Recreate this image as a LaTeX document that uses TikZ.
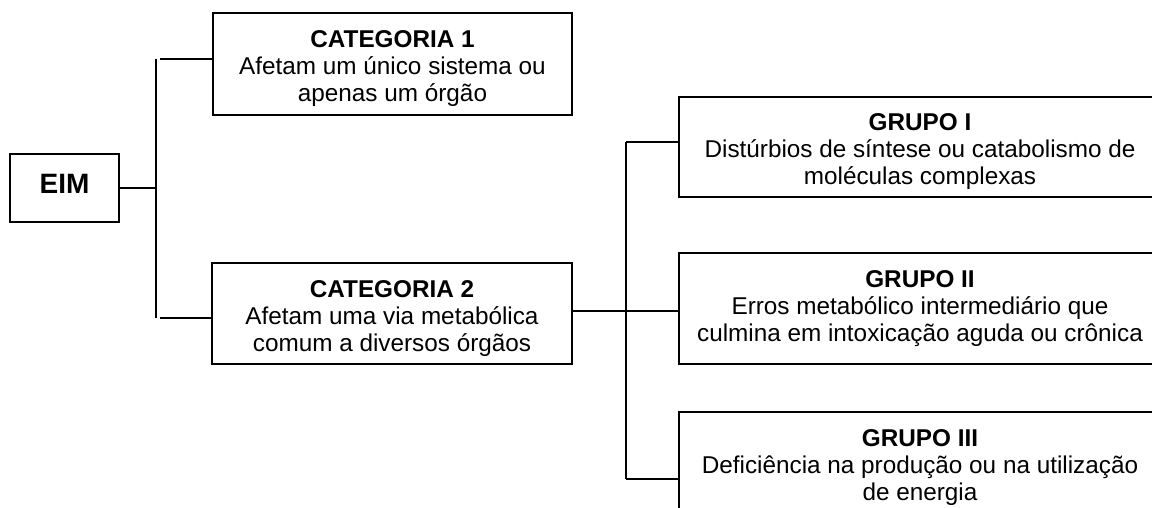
\documentclass[tikz,border=0pt]{standalone}
\usepackage{fontspec}
\setmainfont{Liberation Sans}
\usetikzlibrary{positioning}
\usetikzlibrary{calc}

\newcommand{\topgap}{\rule{0pt}{27pt}}

\tikzset{
  catbox/.style={draw, line width=1.8pt, align=center, inner sep=0pt,
    font=\fontsize{24.3}{27}\selectfont},
  link/.style={line width=1.3pt},
  thicklink/.style={line width=1.8pt}
}

\begin{document}
\begin{tikzpicture}[x=1pt,y=-1pt]
				\useasboundingbox (0,0) rectangle (1152,508);
				\clip (0,0) rectangle (1152,508);
				
				% draw root box
				\node[catbox, minimum width=109, minimum height=68, text depth=8pt, font=\fontsize{28}{30}\selectfont\bfseries] (eim) at (64.5,188) {EIM};
				
				% draw categories
				\node[catbox, minimum width=359, minimum height=102] (cat1) at (392.5,64) {\topgap\textbf{CATEGORIA 1}\\Afetam um único sistema ou\\apenas um órgão};
				\node[catbox, minimum width=360, minimum height=101] (cat2) at (392,313.5) {\topgap\textbf{CATEGORIA 2}\\Afetam uma via metabólica\\comum a diversos órgãos};
				
				% draw groups
				\node[catbox, minimum width=482, minimum height=100] (grp1) at (920,147) {\topgap\textbf{GRUPO I}\\Distúrbios de síntese ou catabolismo de\\moléculas complexas};
				\node[catbox, minimum width=482, minimum height=111] (grp2) at (920,308.5) {\textbf{GRUPO II}\\Erros metabólico intermediário que\\culmina em intoxicação aguda ou crônica};
				\node[catbox, minimum width=482, minimum height=111] (grp3) at (920,467.5) {\textbf{GRUPO III}\\Deficiência na produção ou na utilização\\de energia};
				
				% draw left bus
				\coordinate (bustop) at (156,59);
				\coordinate (busbot) at (156,318);
				\coordinate (stubtop) at (159.5,59);
				\coordinate (stubbot) at (159.5,318);
				\draw[link] (eim.east) -- (eim.east -| bustop);
				\draw[link] (bustop) -- (busbot);
				\draw[thicklink] (stubtop) -- (stubtop -| cat1.west);
				\draw[thicklink] (stubbot) -- (stubbot -| cat2.west);
				
				% draw right bus
				\coordinate (rbustop) at (626,142);
				\coordinate (rbusmid) at (626,311);
				\coordinate (rbusbot) at (626,479);
				\draw[link] (rbustop) -- (rbusbot);
				\draw[link] (rbusmid -| cat2.east) -- (rbusmid -| grp2.west);
				\draw[link] (rbustop) -- (rbustop -| grp1.west);
				\draw[link] (rbusbot) -- (rbusbot -| grp3.west);
			\end{tikzpicture}
\end{document}
